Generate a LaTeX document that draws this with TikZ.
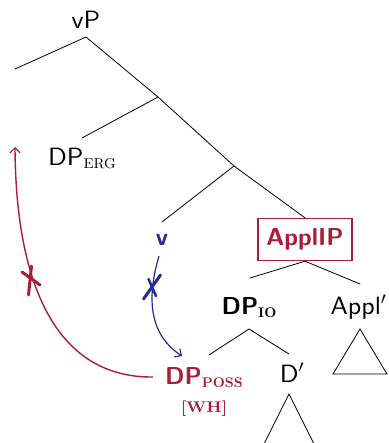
\documentclass[tikz,border=0pt]{standalone}
\usepackage{fontspec}
\usepackage{graphicx}
\setsansfont{lmsans10-regular.otf}[BoldFont=lmsans10-bold.otf]
\setmainfont{lmroman10-regular.otf}[BoldFont=lmroman10-bold.otf]
\usetikzlibrary{arrows.meta}
\definecolor{cred}{RGB}{168,30,58}
\definecolor{cblue}{RGB}{40,40,155}
\newcommand\lblfont{\fontsize{25}{29}\selectfont\sffamily}
\newcommand\boldfont{\fontsize{24.5}{29}\selectfont\sffamily\bfseries}
\newcommand\sx[1]{\scalebox{1.04}[1]{#1}}
\newcommand\subrm[1]{\raisebox{-3pt}{\fontsize{14.3}{16}\selectfont\rmfamily #1}}
\newcommand\subbf[1]{\raisebox{-3.5pt}{\fontsize{14}{16}\selectfont\rmfamily\bfseries #1}}
\begin{document}
\begin{tikzpicture}[x=1pt,y=-1pt,
  lab/.style={font=\lblfont, inner sep=0pt, anchor=base},
  blab/.style={font=\boldfont, inner sep=0pt, anchor=base},
  br/.style={line width=0.8pt, line cap=round},
  xmark/.style={line width=3pt, line cap=round},
  arr/.style={line width=1.4pt, -{Straight Barb[length=5pt,width=10pt,line width=1.2pt]}}]
\useasboundingbox (0,0) rectangle (388,443);
% labels
\node[lab] (vp) at (86,29) {\sx{vP}};
\node[lab] (erg) at (82,166) {\sx{DP\subrm{ERG}}};
\node[blab, text=cblue] (v) at (162,245) {v};
\node[draw=cred, line width=1.4pt, text=cred, font=\boldfont,
      minimum width=94pt, minimum height=42pt, inner sep=0pt] (applip) at (305,239.5) {ApplIP};
\node[blab] (dpio) at (249,314) {DP\subbf{IO}};
\node[lab] (applbar) at (358.5,314) {\sx{Appl$'$}};
\node[lab] (dbar) at (292,382) {\sx{D$'$}};
\node[blab, text=cred] (dpposs) at (204,384) {DP\subbf{POSS}};
\node[anchor=base, inner sep=0pt, text=cred, font=\fontsize{15.5}{17}\selectfont\rmfamily\bfseries] (wh) at (204,412) {\scalebox{1.1}[1]{[WH]}};
% tree points
\coordinate (a0) at (86,37);
\coordinate (l1) at (15,69);
\coordinate (b1) at (158,97);
\coordinate (e1) at (82,138);
\coordinate (b2) at (234,166);
\coordinate (v1) at (162,222);
\coordinate (ioTop) at (250,278);
\coordinate (apTop) at (360,284);
\coordinate (ioBot) at (249,329);
\coordinate (possTop) at (209,355);
\coordinate (dbTop) at (289,354);
\coordinate (t1a) at (289,394);
\coordinate (t1b) at (262,448);
\coordinate (t1c) at (316,448);
\coordinate (t2a) at (360,329);
\coordinate (t2b) at (333,374);
\coordinate (t2c) at (387,374);
% tree lines
\draw[br] (l1) -- (a0) -- (b1) -- (b2) -- (applip.north);
\draw[br] (b1) -- (e1);
\draw[br] (b2) -- (v1);
\draw[br] (ioTop) -- (applip.south) -- (apTop);
\draw[br] (possTop) -- (ioBot) -- (dbTop);
\draw[br] (t1a) -- (t1b) -- (t1c) -- cycle;
\draw[br, line join=miter] (t2a) -- (t2b) -- (t2c) -- cycle;
% red movement arrow
\coordinate (rs) at (153,377);
\coordinate (re) at (15,147);
\draw[arr, cred] (rs) .. controls (65,378) and (16,300) .. (re);
\draw[xmark, cred] (31.5,266) -- (28.5,295);
\draw[xmark, cred] (22,272) -- (40,285);
% blue arrow
\coordinate (bs) at (159,256);
\coordinate (bt) at (182,356);
\draw[arr, cblue, line width=1.2pt] (bs) .. controls (146,300) and (150,335) .. (bt);
\draw[xmark, cblue] (160.5,275) -- (143.5,299);
\draw[xmark, cblue, line width=2.5pt] (148.5,279) -- (156,296);
\end{tikzpicture}
\end{document}
